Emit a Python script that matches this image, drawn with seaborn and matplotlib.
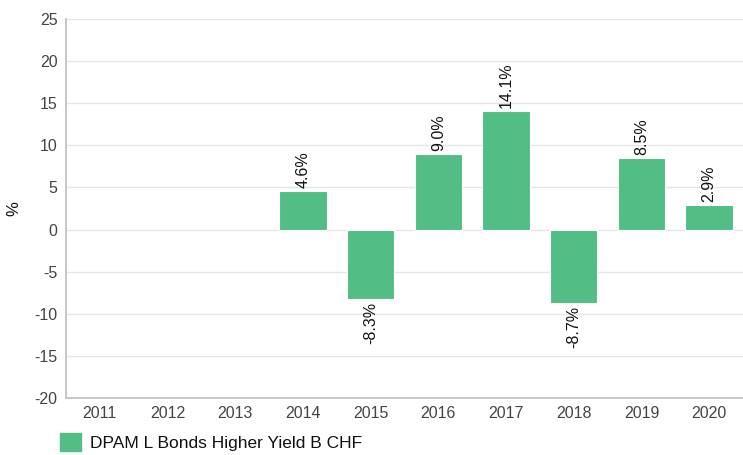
import matplotlib
matplotlib.use("Agg")
import matplotlib.pyplot as plt
import seaborn as sns
import numpy as np
import pandas as pd

years = ["2011", "2012", "2013", "2014", "2015", "2016", "2017", "2018", "2019", "2020"]
returns = [np.nan, np.nan, np.nan, 4.6, -8.3, 9.0, 14.1, -8.7, 8.5, 2.9]
labels = ["", "", "", "4.6%", "-8.3%", "9.0%", "14.1%", "-8.7%", "8.5%", "2.9%"]
series_name = "DPAM L Bonds Higher Yield B CHF"
yticks = [-20, -15, -10, -5, 0, 5, 10, 15, 20, 25]

sns.set_theme(style="white")
plt.rcParams['font.family'] = ['Liberation Sans', 'DejaVu Sans']
plt.rcParams['axes.unicode_minus'] = False

color = "#52be85"
df = pd.DataFrame({"year": years, "ret": returns})

fig = plt.figure(figsize=(7.43, 4.55), dpi=100)
ax = fig.add_axes([0.0888, 0.1253, 0.9112, 0.8329])

sns.barplot(data=df, x="year", y="ret", color=color, width=0.7, ax=ax,
            saturation=1, edgecolor="white", linewidth=0.8)

ax.set_ylim(-20, 25)
ax.set_xlim(-0.5, 9.5)
ax.set_yticks(yticks)
ax.yaxis.grid(True, color="#e6e6e6", linewidth=1)
ax.set_axisbelow(True)
for s in ["top", "right"]:
    ax.spines[s].set_visible(False)
ax.spines["left"].set_color("#c0c0c0")
ax.spines["bottom"].set_color("#c0c0c0")
ax.tick_params(axis="both", colors="#444444", labelsize=11.5, length=0, pad=6)
ax.set_xlabel("")
ax.set_ylabel("%", fontsize=12, color="#111111", va="center")
ax.yaxis.set_label_coords(-0.077, 0.5)

for i, (v, lab) in enumerate(zip(returns, labels)):
    if np.isnan(v):
        continue
    if v >= 0:
        ax.annotate(lab, (i, v), xytext=(0, 2), textcoords="offset points",
                    rotation=90, ha="center", va="bottom", fontsize=11.5, color="#111111")
    else:
        ax.annotate(lab, (i, v), xytext=(0, -2), textcoords="offset points",
                    rotation=90, ha="center", va="top", fontsize=11.5, color="#111111")

from matplotlib.patches import Patch
leg = fig.legend(handles=[Patch(facecolor=color, edgecolor=color, label=series_name)],
                 loc="lower left", bbox_to_anchor=(0.06, -0.025), frameon=False,
                 fontsize=12.5, handlelength=1.2, handleheight=1.2, handletextpad=0.5)
for t in leg.get_texts():
    t.set_color("#111111")

fig.savefig("out.png", dpi=100)
